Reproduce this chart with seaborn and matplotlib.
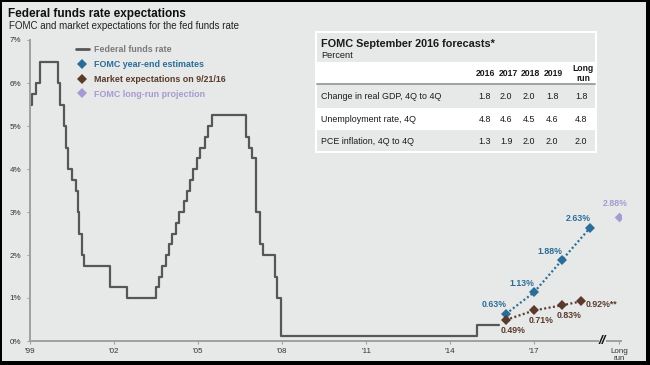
import pandas as pd
import matplotlib
matplotlib.use("Agg")
import matplotlib.pyplot as plt
from matplotlib.lines import Line2D
from matplotlib.patches import Rectangle
import seaborn as sns

# fed funds target rate: date of each change and the new level
ff_dates = ["2000-01-01", "2000-02-02", "2000-03-21", "2000-05-16", "2001-01-03", "2001-01-31",
            "2001-03-20", "2001-04-18", "2001-05-15", "2001-06-27", "2001-08-21", "2001-09-17",
            "2001-10-02", "2001-11-06", "2001-12-11", "2002-11-06", "2003-06-25", "2004-06-30",
            "2004-08-10", "2004-09-21", "2004-11-10", "2004-12-14", "2005-02-02", "2005-03-22",
            "2005-05-03", "2005-06-30", "2005-08-09", "2005-09-20", "2005-11-01", "2005-12-13",
            "2006-01-31", "2006-03-28", "2006-05-10", "2006-06-29", "2007-09-18", "2007-10-31",
            "2007-12-11", "2008-01-22", "2008-01-30", "2008-03-18", "2008-04-30", "2008-10-08",
            "2008-10-29", "2008-12-16", "2015-12-16", "2016-09-30"]
ff_rates = [5.5, 5.75, 6.0, 6.5, 6.0, 5.5, 5.0, 4.5, 4.0, 3.75, 3.5, 3.0,
            2.5, 2.0, 1.75, 1.25, 1.0, 1.25, 1.5, 1.75, 2.0, 2.25, 2.5, 2.75,
            3.0, 3.25, 3.5, 3.75, 4.0, 4.25, 4.5, 4.75, 5.0, 5.25, 4.75, 4.5,
            4.25, 3.5, 3.0, 2.25, 2.0, 1.5, 1.0, 0.125, 0.375, 0.375]

# FOMC year-end estimates (plotted at year end)
fomc_dates = ["2016-12-31", "2017-12-31", "2018-12-31", "2019-12-31"]
fomc_rates = [0.63, 1.13, 1.88, 2.63]
fomc_labels = ["0.63%", "1.13%", "1.88%", "2.63%"]

# market expectations on 9/21/16
mkt_dates = ["2016-12-31", "2017-12-31", "2018-12-31", "2019-09-05"]
mkt_rates = [0.49, 0.71, 0.83, 0.92]
mkt_labels = ["0.49%", "0.71%", "0.83%", "0.92%**"]

longrun_rate = 2.88
longrun_label = "2.88%"

tick_years = [1999, 2002, 2005, 2008, 2011, 2014, 2017]
tick_labels = ["'99", "'02", "'05", "'08", "'11", "'14", "'17"]

table_cols = ["2016", "2017", "2018", "2019", "Long\nrun"]
table_rows = ["Change in real GDP, 4Q to 4Q", "Unemployment rate, 4Q", "PCE inflation, 4Q to 4Q"]
gdp_vals = ["1.8", "2.0", "2.0", "1.8", "1.8"]
unemp_vals = ["4.8", "4.6", "4.5", "4.6", "4.8"]
pce_vals = ["1.3", "1.9", "2.0", "2.0", "2.0"]


def decimal_year(dates):
    d = pd.to_datetime(pd.Series(dates))
    days = 365 + d.dt.is_leap_year.astype(int)
    return (d.dt.year + (d.dt.dayofyear - 1) / days).to_numpy()


W, H = 650, 365
def fx(px):
    return px / W
def fy(py):
    return 1 - py / H

BG = "#e7e8e8"
FF = "#575757"
BLUE = "#2b6d98"
BROWN = "#5b3a2c"
PURPLE = "#a69ad2"
AXIS = "#a0a0a0"

sns.set_theme(style="white")
plt.rcParams["font.family"] = ["Liberation Sans", "DejaVu Sans"]

fig = plt.figure(figsize=(6.5, 3.65), dpi=100)
fig.patch.set_facecolor("black")
fig.add_artist(Rectangle((fx(2), fy(361)), fx(646) - fx(2), fy(2) - fy(361),
                         transform=fig.transFigure, facecolor=BG, edgecolor="none", zorder=-10))

longrun_pos = 2021.04
break_pos = 2020.45
ax = fig.add_axes([fx(30), fy(341), fx(621) - fx(30), fy(40) - fy(341)])
ax.set_facecolor("none")

ff_x = decimal_year(ff_dates)
sns.lineplot(x=ff_x, y=ff_rates, ax=ax, color=FF, lw=1.6, drawstyle="steps-post",
             estimator=None, sort=False)

fomc_x = decimal_year(fomc_dates)
sns.lineplot(x=fomc_x, y=fomc_rates, ax=ax, color=BLUE, lw=1.6, linestyle=(0, (0.9, 1.1)),
             marker="D", markersize=4.8, markeredgewidth=0, estimator=None)
mkt_x = decimal_year(mkt_dates)
sns.lineplot(x=mkt_x, y=mkt_rates, ax=ax, color=BROWN, lw=1.6, linestyle=(0, (0.9, 1.1)),
             marker="D", markersize=4.8, markeredgewidth=0, estimator=None)
sns.scatterplot(x=[longrun_pos], y=[longrun_rate], ax=ax, color=PURPLE, marker="D",
                s=24, linewidth=0)

# point labels
lab_kw = dict(textcoords="offset points", fontsize=6.3, fontweight="bold")
for xv, yv, s in zip(fomc_x, fomc_rates, fomc_labels):
    ax.annotate(s, (xv, yv), xytext=(-8.5, 6.5), color=BLUE, ha="center", va="center", **lab_kw)
ax.annotate(longrun_label, (longrun_pos, longrun_rate), xytext=(-3, 9.5), color=PURPLE,
            ha="center", va="center", **lab_kw)
for i, (xv, yv, s) in enumerate(zip(mkt_x, mkt_rates, mkt_labels)):
    if i < 3:
        ax.annotate(s, (xv, yv), xytext=(5, -7.5), color=BROWN, ha="center", va="center", **lab_kw)
    else:
        ax.annotate(s, (xv, yv), xytext=(3.5, -2.5), color=BROWN, ha="left", va="center", **lab_kw)

ax.set_xlim(2000.0, 2000.0 + (621 - 30) / 28)
ax.set_ylim(0, 7)
ax.set_yticks(range(8))
ax.set_yticklabels([f"{v}%" for v in range(8)])
ax.set_xticks([y + 1 for y in tick_years] + [longrun_pos])
ax.set_xticklabels(tick_labels + ["Long\nrun"], linespacing=1.05)
ax.tick_params(axis="both", length=2.5, width=0.8, color=AXIS, labelsize=5.8,
               labelcolor="#333333", left=True, bottom=True)
ax.tick_params(axis="y", pad=4)
ax.tick_params(axis="x", pad=2.5)
for side in ["top", "right"]:
    ax.spines[side].set_visible(False)
for side in ["left", "bottom"]:
    ax.spines[side].set_color(AXIS)
    ax.spines[side].set_linewidth(1.4)
ax.grid(False)

# axis break marker
ax.text(break_pos, 0, "//", transform=ax.transData, ha="center", va="center",
        fontsize=9.5, fontweight="bold", fontstyle="italic", color="#111111", clip_on=False,
        bbox=dict(facecolor=BG, edgecolor="none", pad=0.1))

# legend
handles = [
    Line2D([], [], color=FF, lw=2),
    Line2D([], [], color=BLUE, marker="D", ls="none", markersize=5, markeredgewidth=0),
    Line2D([], [], color=BROWN, marker="D", ls="none", markersize=5, markeredgewidth=0),
    Line2D([], [], color=PURPLE, marker="D", ls="none", markersize=5, markeredgewidth=0),
]
labels = ["Federal funds rate", "FOMC year-end estimates", "Market expectations on 9/21/16",
          "FOMC long-run projection"]
fig.legend(handles, labels, loc="upper left", bbox_to_anchor=(fx(76), fy(45)),
           bbox_transform=fig.transFigure, frameon=False, borderpad=0, borderaxespad=0,
           handlelength=1.45, handletextpad=0.6, labelspacing=0.66,
           prop={"size": 6.4, "weight": "bold"},
           labelcolor=["#7a7a7a", BLUE, BROWN, PURPLE])

# titles
fig.text(fx(8), fy(17.5), "Federal funds rate expectations", fontsize=8.5, fontweight="bold",
         color="#111111", va="baseline")
fig.text(fx(9), fy(29), "FOMC and market expectations for the fed funds rate", fontsize=7,
         color="#222222", va="baseline")

# forecast table
def band(y0, y1, color, x0=317, x1=595):
    fig.add_artist(Rectangle((fx(x0), fy(y1)), fx(x1) - fx(x0), fy(y0) - fy(y1),
                             transform=fig.transFigure, facecolor=color, edgecolor="none", zorder=3))

band(31, 153, "white", 315, 597)
band(33, 62, BG)
band(84, 107.5, BG)
band(130, 151, BG)
fig.add_artist(Line2D([fx(317), fx(595)], [fy(83.5), fy(83.5)], transform=fig.transFigure,
                      color="#9a9a9a", lw=1.3, zorder=4))

tkw = dict(color="#1a1a1a", zorder=5)
fig.text(fx(321), fy(44.3), "FOMC September 2016 forecasts*", fontsize=7.8, fontweight="bold",
         va="center", **tkw)
fig.text(fx(321), fy(56), "Percent", fontsize=6.6, va="center", **tkw)
col_centers = [485, 508, 530.5, 553.5, 583]
val_right = [491, 512.5, 535.5, 558.5, 587.5]
for cx, c in zip(col_centers, table_cols):
    fig.text(fx(cx), fy(73.5), c, fontsize=6.2, fontweight="bold", ha="center", va="center",
             linespacing=1.15, **tkw)
row_y = [96.7, 119.3, 141.7]
for ry, name, vals in zip(row_y, table_rows, [gdp_vals, unemp_vals, pce_vals]):
    fig.text(fx(321), fy(ry), name, fontsize=6.4, va="center", **tkw)
    for rx, v in zip(val_right, vals):
        fig.text(fx(rx), fy(ry), v, fontsize=6.4, ha="right", va="center", **tkw)

fig.savefig("out.png", dpi=100)
